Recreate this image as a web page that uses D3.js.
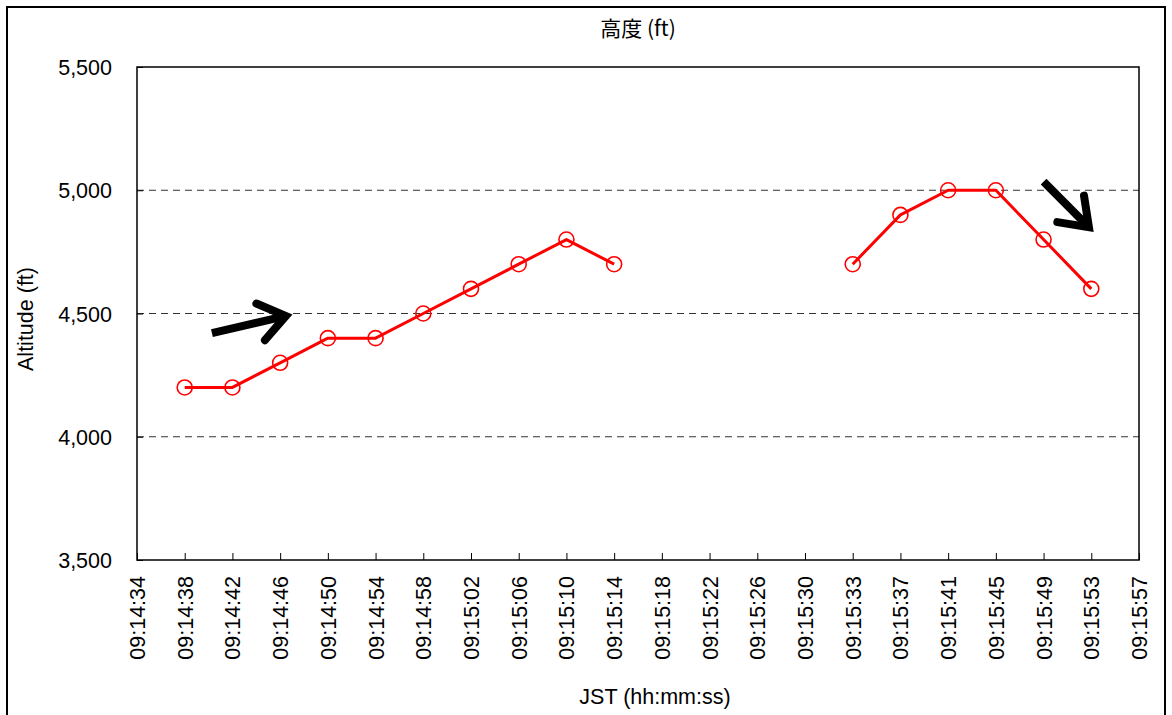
<!DOCTYPE html>
<html>
<head>
<meta charset="utf-8">
<script src="https://cdn.jsdelivr.net/npm/d3@7"></script>
<style>
  body { margin: 0; background: #fff; }
  text { font-family: "Liberation Sans", Arial, sans-serif; fill: #000; }
</style>
</head>
<body>
<script>
const width = 1172;
const height = 715;

// x categories (JST) and altitude in ft, null = no data
const times = [
  "09:14:34", "09:14:38", "09:14:42", "09:14:46", "09:14:50", "09:14:54", "09:14:58",
  "09:15:02", "09:15:06", "09:15:10", "09:15:14", "09:15:18", "09:15:22", "09:15:26", "09:15:30",
  "09:15:33", "09:15:37", "09:15:41", "09:15:45", "09:15:49", "09:15:53", "09:15:57"
];
const altitude = [
  null, 4200, 4200, 4300, 4400, 4400, 4500,
  4600, 4700, 4800, 4700, null, null, null, null,
  4700, 4900, 5000, 5000, 4800, 4600, null
];
const yTicks = [3500, 4000, 4500, 5000, 5500];
const gridValues = [4000, 4500, 5000];

// annotation arrows, in data terms (category index, ft)
const arrows = [
  { from: [1.57, 4420], to: [3.12, 4490] },
  { from: [19.0, 5035], to: [19.95, 4850] }
];

const margin = { top: 67, right: 33, bottom: 155, left: 137 };

const svg = d3.select('body').append('svg')
  .attr('width', width)
  .attr('height', height);

// outer frame
svg.append('rect')
  .attr('x', 7).attr('y', 7)
  .attr('width', 1158).attr('height', 720)
  .attr('fill', 'none').attr('stroke', '#000').attr('stroke-width', 2);

const x = d3.scalePoint()
  .domain(d3.range(times.length))
  .range([margin.left, width - margin.right]);

const y = d3.scaleLinear()
  .domain([3500, 5500])
  .range([height - margin.bottom, margin.top]);

// index-as-number helper for annotations
const xi = d3.scaleLinear()
  .domain([0, times.length - 1])
  .range([margin.left, width - margin.right]);

// dashed gridlines
svg.append('g')
  .selectAll('line')
  .data(gridValues)
  .join('line')
  .attr('x1', margin.left)
  .attr('x2', width - margin.right)
  .attr('y1', d => y(d))
  .attr('y2', d => y(d))
  .attr('stroke', '#333')
  .attr('stroke-width', 1)
  .attr('stroke-dasharray', '7,5');

// y axis (ticks inward)
const yAxis = svg.append('g')
  .attr('transform', `translate(${margin.left},0)`)
  .call(d3.axisRight(y).tickValues(yTicks).tickSize(6).tickFormat(d3.format(',')));
yAxis.select('.domain').remove();
yAxis.selectAll('line').attr('stroke', '#000');
yAxis.selectAll('text')
  .attr('x', -25)
  .attr('text-anchor', 'end')
  .attr('dy', '0.35em')
  .style('font-size', '21.5px');

// x axis (ticks inward)
const xAxis = svg.append('g')
  .attr('transform', `translate(0,${height - margin.bottom})`)
  .call(d3.axisTop(x).tickSize(7).tickFormat(i => times[i]));
xAxis.select('.domain').remove();
xAxis.selectAll('line').attr('stroke', '#000');
xAxis.selectAll('text')
  .attr('transform', 'rotate(-90)')
  .attr('x', -16)
  .attr('y', 0)
  .attr('dy', '0.35em')
  .attr('text-anchor', 'end')
  .style('font-size', '21.5px');

// plot box
svg.append('rect')
  .attr('x', margin.left).attr('y', margin.top)
  .attr('width', width - margin.right - margin.left)
  .attr('height', height - margin.bottom - margin.top)
  .attr('fill', 'none').attr('stroke', '#000').attr('stroke-width', 1.5);

// series line with gaps
const line = d3.line()
  .defined(d => d != null)
  .x((d, i) => x(i))
  .y(d => y(d));

svg.append('path')
  .datum(altitude)
  .attr('d', line)
  .attr('fill', 'none')
  .attr('stroke', '#ff0000')
  .attr('stroke-width', 3)
  .attr('stroke-linejoin', 'round');

const pts = altitude.map((v, i) => ({ i, v })).filter(d => d.v != null);
svg.append('g')
  .selectAll('circle')
  .data(pts)
  .join('circle')
  .attr('cx', d => x(d.i))
  .attr('cy', d => y(d.v))
  .attr('r', 7.5)
  .attr('fill', 'none')
  .attr('stroke', '#ff0000')
  .attr('stroke-width', 1.6);

// arrows
arrows.forEach(a => {
  const x1 = xi(a.from[0]), y1 = y(a.from[1]);
  const x2 = xi(a.to[0]), y2 = y(a.to[1]);
  const ang = Math.atan2(y2 - y1, x2 - x1);
  const len = 32, spread = Math.PI / 5;
  const hx1 = x2 - len * Math.cos(ang - spread), hy1 = y2 - len * Math.sin(ang - spread);
  const hx2 = x2 - len * Math.cos(ang + spread), hy2 = y2 - len * Math.sin(ang + spread);
  svg.append('path')
    .attr('d', `M${x1},${y1}L${x2 - 5 * Math.cos(ang)},${y2 - 5 * Math.sin(ang)}`)
    .attr('stroke', '#000').attr('stroke-width', 8).attr('fill', 'none');
  svg.append('path')
    .attr('d', `M${hx1},${hy1}L${x2},${y2}L${hx2},${hy2}`)
    .attr('stroke', '#000').attr('stroke-width', 8).attr('fill', 'none')
    .attr('stroke-linejoin', 'miter').attr('stroke-linecap', 'round');
});

// titles
svg.append('text')
  .attr('x', 638).attr('y', 36)
  .attr('text-anchor', 'middle')
  .style('font-size', '21px')
  .style('font-family', '"Noto Sans CJK JP", "Liberation Sans", sans-serif')
  .text('高度 (ft)');

svg.append('text')
  .attr('x', 655).attr('y', 704)
  .attr('text-anchor', 'middle')
  .style('font-size', '21.5px')
  .text('JST (hh:mm:ss)');

svg.append('text')
  .attr('transform', `translate(33,319) rotate(-90)`)
  .attr('text-anchor', 'middle')
  .style('font-size', '21.5px')
  .text('Altitude (ft)');
</script>
</body>
</html>
